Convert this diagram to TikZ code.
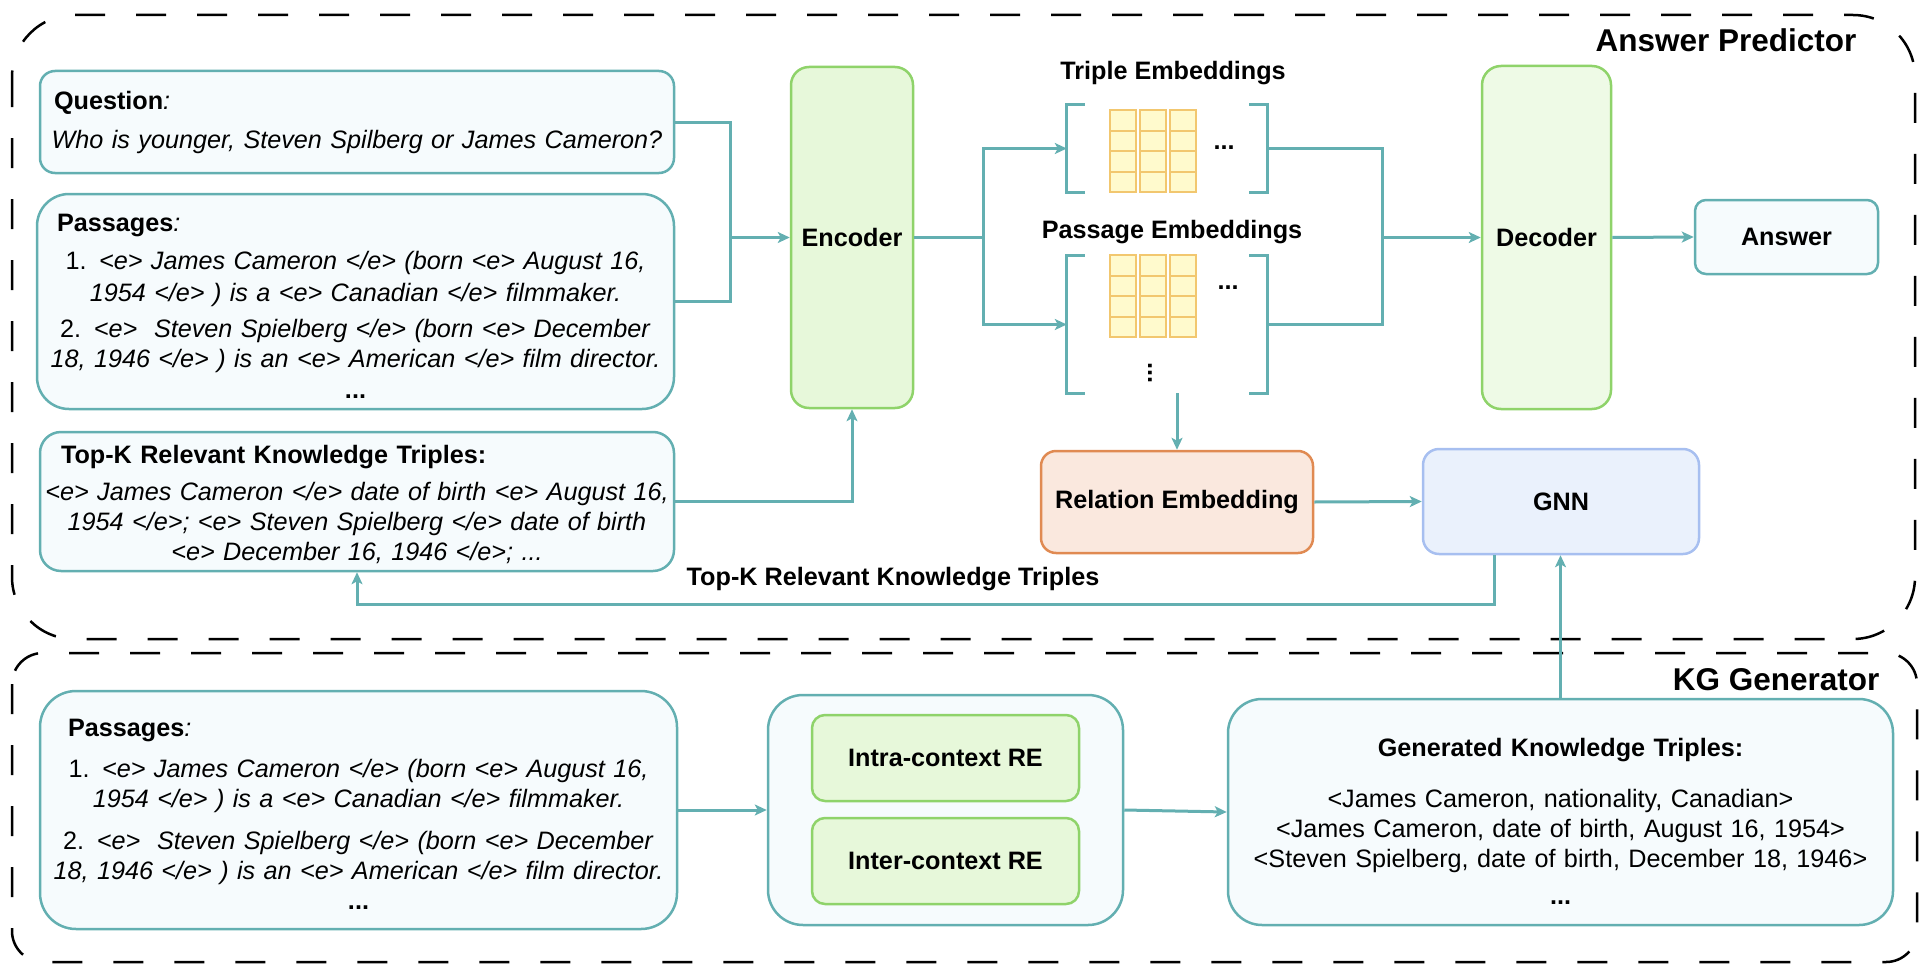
\documentclass[tikz,border=0pt]{standalone}
\usepackage{fontspec}
\setmainfont{Liberation Sans}
\usetikzlibrary{arrows.meta}

\definecolor{tealline}{HTML}{63AFB1}
\definecolor{boxfill}{HTML}{F6FBFD}
\definecolor{encline}{HTML}{8FD36A}
\definecolor{encfill}{HTML}{E7F8DA}
\definecolor{decfill}{HTML}{EEFAE6}
\definecolor{relline}{HTML}{E08A52}
\definecolor{relfill}{HTML}{FAE8DE}
\definecolor{gnnline}{HTML}{A7BFF0}
\definecolor{gnnfill}{HTML}{EAF1FC}
\definecolor{cellline}{HTML}{F2C76F}
\definecolor{cellfill}{HTML}{FFFACD}

\newcommand{\bodysize}{\fontsize{25.2}{30}\selectfont}
\newcommand{\headsize}{\fontsize{31.5}{36}\selectfont}
\newcommand{\topgap}[1]{\rule{0pt}{#1}}

\begin{document}
\begin{tikzpicture}[x=1pt, y=-1pt,
  every node/.style={font=\bodysize},
  tealbox/.style={draw=tealline, fill=boxfill, line width=2.5pt, inner xsep=2pt},
  greenbox/.style={draw=encline, fill=encfill, line width=2.5pt, font=\bodysize\bfseries},
  link/.style={draw=tealline, line width=3pt},
  linkto/.style={link, -{Stealth[length=12pt, width=11pt, inset=3pt]}},
  frame/.style={draw=black, line width=2.5pt, dash pattern=on 30pt off 31pt},
  cell/.style={draw=cellline, fill=cellfill, line width=2pt},
  embbox/.style={inner sep=0pt, minimum width=200pt},
]
\useasboundingbox (0,0) rectangle (1922,974);

\draw[frame, rounded corners=62pt] (12,15) rectangle (1915,639);
\draw[frame, rounded corners=31pt] (12,653) rectangle (1917,962);
\node[font=\headsize\bfseries, anchor=east] (aplabel) at (1860,40) {Answer Predictor};
\node[font=\headsize\bfseries, anchor=east] (kglabel) at (1883,680) {KG Generator};

\node[tealbox, rounded corners=15pt, minimum width=634pt, minimum height=102pt, text width=630pt, align=center] (question) at (357,122)
  {\makebox[\linewidth][l]{\hspace{12pt}\textbf{Question}\textit{:}}\\[9pt]
   \textit{Who is younger, Steven Spilberg or James Cameron?}};
\node[tealbox, rounded corners=32pt, minimum width=637pt, minimum height=215pt, text width=633pt, align=center] (passages) at (355.5,301.5)
  {\makebox[\linewidth][l]{\topgap{26pt}\hspace{18pt}\textbf{Passages}\textit{:}}\\[8pt]
   1. \textit{<e> James Cameron </e> (born <e> August 16,}\\[2pt]
   \textit{1954 </e> ) is a <e> Canadian </e> filmmaker.}\\[6pt]
   2. \textit{<e>\ \ Steven Spielberg </e> (born <e> December}\\
   \textit{18, 1946 </e> ) is an <e> American </e> film director.}\\[1pt]
   \textbf{...}};
\node[tealbox, rounded corners=21pt, minimum width=634pt, minimum height=139pt, text width=630pt, align=center] (topk) at (357,501.5)
  {\makebox[\linewidth][l]{\topgap{24pt}\hspace{19pt}\textbf{Top-K Relevant Knowledge Triples:}}\\[7pt]
   \makebox[\linewidth]{\textit{<e> James Cameron </e> date of birth <e> August 16,}}\\
   \textit{1954 </e>; <e> Steven Spielberg </e> date of birth}\\
   \textit{<e> December 16, 1946 </e>; ...}};

\node[greenbox, rounded corners=18pt, minimum width=122pt, minimum height=341pt] (encoder) at (852,237.5) {Encoder};
\node[greenbox, fill=decfill, rounded corners=19pt, minimum width=129pt, minimum height=343pt] (decoder) at (1546.5,237.5) {Decoder};
\node[tealbox, rounded corners=11pt, minimum width=183pt, minimum height=74pt, font=\bodysize\bfseries] (answer) at (1786.5,237) {Answer};

\node[font=\bodysize\bfseries] (triplabel) at (1173,73) {Triple Embeddings};
\node[font=\bodysize\bfseries] (passlabel) at (1172,232) {Passage Embeddings};
\node[embbox, minimum height=87pt] (tripemb) at (1167,148.5) {};
\node[embbox, minimum height=137pt] (passemb) at (1167,324.5) {};
\foreach \emb in {tripemb, passemb} {
  \draw[link] ([xshift=18pt]\emb.north west) -| (\emb.south west) -- ++(18,0);
  \draw[link] ([xshift=-18pt]\emb.north east) -| (\emb.south east) -- ++(-18,0);
}
\foreach \col in {0,1,2}
  \foreach \row in {0,...,3} {
    \draw[cell] (1110+30*\col, 110+20.5*\row) rectangle ++(26,20.5);
    \draw[cell] (1110+30*\col, 255+20.5*\row) rectangle ++(26,20.5);
  }
\node[font=\bodysize\bfseries] (tripdots) at (1224,148) {...};
\node[font=\bodysize\bfseries] (passdots) at (1228,288) {...};
\node[font=\bodysize\bfseries] (passvdots) at (1150,373) {\rotatebox{90}{...}};

\node[draw=relline, fill=relfill, line width=2.5pt, rounded corners=15pt, minimum width=272pt, minimum height=102pt, font=\bodysize\bfseries] (relemb) at (1177,502) {Relation Embedding};
\node[draw=gnnline, fill=gnnfill, line width=2.5pt, rounded corners=16pt, minimum width=276pt, minimum height=105pt, font=\bodysize\bfseries] (gnn) at (1561,501.5) {GNN};

\node[tealbox, rounded corners=36pt, minimum width=637pt, minimum height=238pt, text width=633pt, align=center] (kgpass) at (358.5,810)
  {\makebox[\linewidth][l]{\topgap{26pt}\hspace{26pt}\textbf{Passages}\textit{:}}\\[11pt]
   1. \textit{<e> James Cameron </e> (born <e> August 16,}\\
   \textit{1954 </e> ) is a <e> Canadian </e> filmmaker.}\\[12pt]
   2. \textit{<e>\ \ Steven Spielberg </e> (born <e> December}\\
   \textit{18, 1946 </e> ) is an <e> American </e> film director.}\\
   \textbf{...}};
\node[tealbox, rounded corners=35pt, minimum width=355pt, minimum height=230pt] (recont) at (945.5,810) {};
\node[greenbox, rounded corners=13pt, minimum width=267pt, minimum height=86pt] (intrare) at (945.5,758) {Intra-context RE};
\node[greenbox, rounded corners=13pt, minimum width=267pt, minimum height=86pt] (interre) at (945.5,861) {Inter-context RE};
\node[tealbox, rounded corners=34pt, minimum width=665pt, minimum height=226pt, text width=661pt, align=center] (generated) at (1560.5,812)
  {\topgap{36pt}\textbf{Generated Knowledge Triples:}\\[21pt]
   <James Cameron, nationality, Canadian>\\
   <James Cameron, date of birth, August 16, 1954>\\
   <Steven Spielberg, date of birth, December 18, 1946>\\[7pt]
   \textbf{...}};

\coordinate (qpjoin) at ([xshift=-59pt]encoder.west);
\draw[link] (question.east) -| (qpjoin);
\draw[link] (passages.east) -| (qpjoin);
\draw[linkto] (qpjoin) -- (encoder.west);
\draw[linkto] (topk.east) -| (encoder.south);

\coordinate (encsplit) at ([xshift=69pt]encoder.east);
\draw[link] (encoder.east) -- (encsplit);
\draw[linkto] (encsplit) |- (tripemb.west);
\draw[linkto] (encsplit) |- (passemb.west);
\coordinate (embjoin) at ([xshift=-98pt]decoder.west);
\draw[link] (tripemb.east) -| (embjoin);
\draw[link] (passemb.east) -| (embjoin);
\draw[linkto] (embjoin) -- (decoder.west);
\draw[linkto] (decoder.east) -- (answer.west);

\draw[linkto] (passemb.south -| relemb.north) -- (relemb.north);
\draw[linkto] (relemb.east) -- (gnn.west);
\draw[linkto] ([xshift=-67pt]gnn.south) -- ++(0,49) -| (topk.south);
\node[font=\bodysize\bfseries] (fblabel) at (893,579) {Top-K Relevant Knowledge Triples};
\draw[linkto] (generated.north) -- (generated.north |- gnn.south);

\draw[linkto] (kgpass.east) -- (recont.west);
\draw[linkto] (recont.east) -- (generated.west);

\end{tikzpicture}
\end{document}
